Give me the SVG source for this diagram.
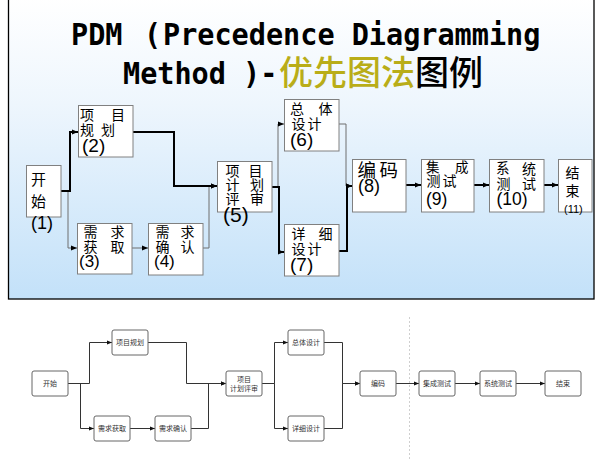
<svg xmlns="http://www.w3.org/2000/svg" width="598" height="469" viewBox="0 0 598 469">
<defs>
<linearGradient id="bg" x1="0" y1="0" x2="0" y2="1">
<stop offset="0" stop-color="#ffffff"/>
<stop offset="0.35" stop-color="#eef6fd"/>
<stop offset="1" stop-color="#c3e1f9"/>
</linearGradient>
<marker id="ah" viewBox="0 0 10 10" refX="10" refY="5" markerWidth="6" markerHeight="6" markerUnits="userSpaceOnUse" orient="auto"><path d="M0,1 L10,5 L0,9 z" fill="#000"/></marker>
<marker id="ab" viewBox="0 0 10 10" refX="10" refY="5" markerWidth="5" markerHeight="5" markerUnits="userSpaceOnUse" orient="auto"><path d="M0,1 L10,5 L0,9 z" fill="#111"/></marker>
</defs>
<style>
.tbox{fill:#fff;stroke:#808080;stroke-width:1}
.tt{font-family:"Liberation Sans","Noto Sans CJK SC","Noto Sans CJK JP",sans-serif;fill:#000;font-size:14px}
.thick{fill:none;stroke:#000;stroke-width:2;marker-end:url(#ah)}
.thin{fill:none;stroke:#6e6e6e;stroke-width:1;marker-end:url(#ah)}
.bbox{fill:#fff;stroke:#666;stroke-width:1}
.bt{font-family:"Noto Sans CJK SC",sans-serif;font-size:7px;fill:#333;text-anchor:middle}
.bc{fill:none;stroke:#333;stroke-width:1;marker-end:url(#ab)}
.title{font-family:"DejaVu Sans Mono",monospace;font-weight:bold;font-size:28.5px;fill:#000}
</style>
<rect width="598" height="469" fill="#fff"/>
<!-- top panel -->
<rect x="8.5" y="-2" width="585.5" height="301" fill="url(#bg)" stroke="#000" stroke-width="1.3"/>
<g id="title">
<text class="title" transform="translate(71,45) scale(1,1.06)">PDM</text>
<text class="title" transform="translate(144,45) scale(1,1.06)">(</text>
<text class="title" transform="translate(163,45) scale(1,1.06)">Precedence Diagramming</text>
<text class="title" transform="translate(123,84) scale(1,1.06)">Method )-</text>
<text x="279" y="85" font-family="'Noto Sans CJK SC',sans-serif" font-weight="500" font-size="34" fill="#b9ad18">优先图法<tspan fill="#000">图例</tspan></text>
</g>
<g id="top-connectors">
<path class="thin" d="M68,191 V248 H77"/>
<path class="thick" d="M61,191 H70 V132 H78"/>
<path class="thin" d="M132,248 H148"/>
<path class="thin" d="M203,248 H209 V186 H217"/>
<path class="thick" d="M133,132 H174 V186 H217"/>
<path class="thin" d="M272,187 H278 V124 H284"/>
<path class="thick" d="M272,187 H279 V252 H284"/>
<path class="thin" d="M339,124 H346 V186 H352"/>
<path class="thick" d="M339,251 H347 V186 H352"/>
<path class="thick" d="M406,185 H421"/>
<path class="thick" d="M474,185 H489"/>
<path class="thick" d="M544,185 H558"/>
</g>
<g id="t1">
<rect class="tbox" x="26.5" y="165.5" width="34.5" height="51.5"/>
<text class="tt"><tspan font-size="15" x="31" y="185">开</tspan><tspan font-size="15" x="31" y="207">始</tspan><tspan font-size="18" x="31" y="229">(1)</tspan></text>
</g>
<g id="t2">
<rect class="tbox" x="78.5" y="105.5" width="54.5" height="51.5"/>
<text class="tt"><tspan x="80" y="120">项</tspan><tspan x="111" y="120">目</tspan><tspan x="80" y="134.5">规</tspan><tspan x="101" y="134.5">划</tspan><tspan font-size="19" x="82" y="151.5">(2)</tspan></text>
</g>
<g id="t3">
<rect class="tbox" x="77.5" y="223.5" width="54.5" height="50.5"/>
<text class="tt"><tspan x="83.5" y="236.5">需</tspan><tspan x="110.5" y="236.5">求</tspan><tspan x="83.5" y="251.5">获</tspan><tspan x="110.5" y="251.5">取</tspan><tspan font-size="17" x="79" y="267">(3)</tspan></text>
</g>
<g id="t4">
<rect class="tbox" x="148.5" y="223.5" width="54.5" height="51.5"/>
<text class="tt"><tspan x="155.5" y="236.5">需</tspan><tspan x="180.5" y="236.5">求</tspan><tspan x="155.5" y="251.5">确</tspan><tspan x="180.5" y="251.5">认</tspan><tspan font-size="17" x="154" y="267">(4)</tspan></text>
</g>
<g id="t5">
<rect class="tbox" x="217.5" y="161.5" width="54.5" height="50.5"/>
<text class="tt"><tspan x="225.5" y="175.5">项</tspan><tspan x="248.5" y="175.5">目</tspan><tspan x="225.5" y="189.5">计</tspan><tspan x="250" y="189.5">划</tspan><tspan x="225.5" y="204">评</tspan><tspan x="250" y="204">审</tspan><tspan font-size="21" x="223" y="222">(5)</tspan></text>
</g>
<g id="t6">
<rect class="tbox" x="284.5" y="99.5" width="54.5" height="51.5"/>
<text class="tt"><tspan x="290" y="114">总</tspan><tspan x="318.5" y="114">体</tspan><tspan x="291.5" y="128.5">设</tspan><tspan x="307.5" y="128.5">计</tspan><tspan font-size="19" x="290" y="146">(6)</tspan></text>
</g>
<g id="t7">
<rect class="tbox" x="284.5" y="224.5" width="54.5" height="51.5"/>
<text class="tt"><tspan x="291.5" y="239">详</tspan><tspan x="318.5" y="239">细</tspan><tspan x="291.5" y="254">设</tspan><tspan x="307.5" y="254">计</tspan><tspan font-size="19" x="290" y="271">(7)</tspan></text>
</g>
<g id="t8">
<rect class="tbox" x="352.5" y="159.5" width="53.5" height="52.5"/>
<text class="tt"><tspan font-size="18.5" x="357.5" y="176.5">编</tspan><tspan font-size="18.5" x="379.5" y="176.5">码</tspan><tspan font-size="18" x="358" y="192">(8)</tspan></text>
</g>
<g id="t9">
<rect class="tbox" x="421.5" y="159.5" width="52.5" height="52.5"/>
<text class="tt"><tspan font-size="13.5" x="426" y="172">集</tspan><tspan font-size="13.5" x="455" y="172">成</tspan><tspan x="426.5" y="185.5">测</tspan><tspan x="442.5" y="185.5">试</tspan><tspan font-size="17.5" x="426" y="204.5">(9)</tspan></text>
</g>
<g id="t10">
<rect class="tbox" x="489.5" y="159.5" width="54.5" height="52.5"/>
<text class="tt"><tspan font-size="13.5" x="496" y="173">系</tspan><tspan x="522" y="174">统</tspan><tspan x="496.5" y="189">测</tspan><tspan x="522" y="189">试</tspan><tspan font-size="17.5" x="496.5" y="204.5">(10)</tspan></text>
</g>
<g id="t11">
<rect class="tbox" x="558.5" y="159.5" width="33.5" height="52.5"/>
<text class="tt"><tspan x="565.5" y="178">结</tspan><tspan x="565.5" y="196">束</tspan><tspan font-size="11" x="564" y="213">(11)</tspan></text>
</g>
<!-- bottom diagram -->
<path d="M409.5,317 V460" stroke="#cfcfcf" stroke-width="1" stroke-dasharray="2,2" fill="none"/>
<g id="bottom-connectors">
<path class="bc" d="M68,383.5 H89.5 V342.5 H112"/>
<path class="bc" d="M68,383.5 H80.5 V428.5 H94"/>
<path class="bc" d="M130,428.5 H155"/>
<path class="bc" d="M148,342.5 H186.5 V383.5 H226"/>
<path class="bc" d="M191,428.5 H208.5 V383.5 H226"/>
<path class="bc" d="M262,383.5 H274.5 V342.5 H288"/>
<path class="bc" d="M262,383.5 H274.5 V428.5 H288"/>
<path class="bc" d="M324,342.5 H342.5 V383.5 H360"/>
<path class="bc" d="M324,428.5 H342.5 V383.5 H360"/>
<path class="bc" d="M396,383.5 H419"/>
<path class="bc" d="M455,383.5 H480"/>
<path class="bc" d="M516,383.5 H545"/>
</g>
<g id="b1"><rect class="bbox" x="32" y="371" width="36" height="25" rx="2"/><text class="bt" x="50" y="386">开始</text></g>
<g id="b2"><rect class="bbox" x="112" y="330" width="36" height="25" rx="2"/><text class="bt" x="130" y="345">项目规划</text></g>
<g id="b3"><rect class="bbox" x="94" y="416" width="36" height="25" rx="2"/><text class="bt" x="112" y="431">需求获取</text></g>
<g id="b4"><rect class="bbox" x="155" y="416" width="36" height="25" rx="2"/><text class="bt" x="173" y="431">需求确认</text></g>
<g id="b5"><rect class="bbox" x="226" y="371" width="36" height="25" rx="2"/><text class="bt"><tspan x="244" y="381.5">项目</tspan><tspan x="244" y="390.5">计划评审</tspan></text></g>
<g id="b6"><rect class="bbox" x="288" y="330" width="36" height="25" rx="2"/><text class="bt" x="306" y="345">总体设计</text></g>
<g id="b7"><rect class="bbox" x="288" y="416" width="36" height="25" rx="2"/><text class="bt" x="306" y="431">详细设计</text></g>
<g id="b8"><rect class="bbox" x="360" y="371" width="36" height="25" rx="2"/><text class="bt" x="378" y="386">编码</text></g>
<g id="b9"><rect class="bbox" x="419" y="371" width="36" height="25" rx="2"/><text class="bt" x="437" y="386">集成测试</text></g>
<g id="b10"><rect class="bbox" x="480" y="371" width="36" height="25" rx="2"/><text class="bt" x="498" y="386">系统测试</text></g>
<g id="b11"><rect class="bbox" x="545" y="371" width="36" height="25" rx="2"/><text class="bt" x="563" y="386">结束</text></g>
</svg>
